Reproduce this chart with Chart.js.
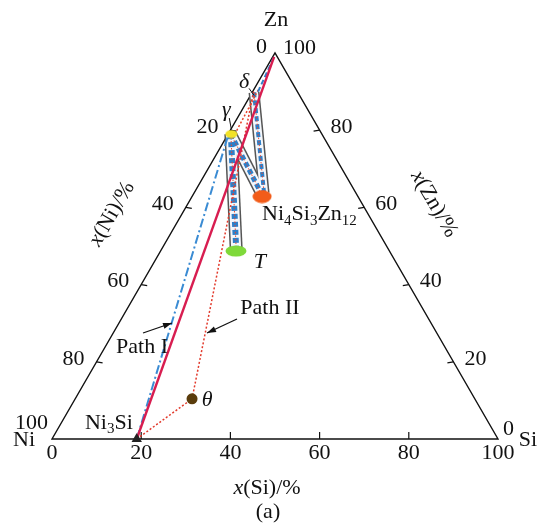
<!DOCTYPE html>
<html>
<head>
<meta charset="utf-8">
<script src="https://cdn.jsdelivr.net/npm/chart.js@4.4.0/dist/chart.umd.min.js"></script>
<style>
body { margin: 0; background: #fff; }
canvas { display: block; }
</style>
</head>
<body>
<canvas id="chart" width="537" height="527"></canvas>
<script>
'use strict';

// compositions in at.%: Si and Zn given, Ni is the rest
let phaseNames = ['Ni3Si', 'θ', 'T', 'Ni4Si3Zn12', 'γ'];
let phaseSi = [19, 26.2, 16.9, 15.7, 0.7];
let phaseZn = [0, 10.4, 48.7, 62.8, 79.0];

let tickValues = [0, 20, 40, 60, 80, 100];

let pathISi = [19, 0.3];
let pathIZn = [0, 99];
let pathIBlueSi = [19, 0.2];
let pathIBlueZn = [0, 78.5];
let pathIISi = [19, 26.2, 0.2];
let pathIIZn = [0, 10.4, 90];
let gammaDeltaSi = [1.5, 1.0];
let gammaDeltaZn = [79, 91];
let deltaZnSi = [1.2, 0.3];
let deltaZnZn = [90, 99];

let bandGammaTSi = [0.6, 16.7];
let bandGammaTZn = [79, 49.2];
let bandGammaNSi = [0.6, 15.5];
let bandGammaNZn = [79, 63.2];
let bandDeltaNSi = [0.4, 15.7];
let bandDeltaNZn = [89.8, 63.7];

const H = Math.sqrt(3) / 2;
const FONT = '"Liberation Serif", "Times New Roman", serif';

function tern(si, zn) {
    return { x: si + zn / 2, y: zn * H };
}

function lineSet(si, zn, color, width, dash, order) {
    return {
        data: si.map((s, i) => tern(s, zn[i])),
        showLine: true,
        borderColor: color,
        borderWidth: width,
        borderDash: dash || [],
        pointRadius: 0,
        fill: false,
        clip: false,
        order: order
    };
}

function ellipse(w, h, color) {
    let c = document.createElement('canvas');
    c.width = w;
    c.height = h;
    let g = c.getContext('2d');
    g.fillStyle = color;
    g.beginPath();
    g.ellipse(w / 2, h / 2, w / 2 - 0.5, h / 2 - 0.5, 0, 0, 2 * Math.PI);
    g.fill();
    return c;
}

let datasets = [];
let bands = [[bandGammaTSi, bandGammaTZn, 13], [bandGammaNSi, bandGammaNZn, 12], [bandDeltaNSi, bandDeltaNZn, 11]];
bands.forEach(b => {
    datasets.push(lineSet(b[0], b[1], '#555', b[2], null, 20));
    datasets.push(lineSet(b[0], b[1], '#f4f7fb', b[2] - 3, null, 19));
    datasets.push(lineSet(b[0], b[1], '#2f7fc8', b[2] - 7, [5, 3], 18));
    datasets.push(lineSet(b[0], b[1], '#e8452c', 1, [1.5, 2], 17));
});
datasets.push(lineSet(gammaDeltaSi, gammaDeltaZn, '#e8452c', 1.5, [2, 2], 8));
datasets.push(lineSet(deltaZnSi, deltaZnZn, '#2f7fc8', 2, [5, 3], 7));
datasets.push(lineSet(pathIISi, pathIIZn, '#e23a2c', 1.5, [2, 2], 6));
datasets.push(lineSet(pathIBlueSi, pathIBlueZn, '#3a8bd3', 2, [9, 3, 2, 3], 5));
datasets.push(lineSet(pathISi, pathIZn, '#d81d50', 2.4, null, 4));

datasets.push({
    data: phaseSi.map((s, i) => tern(s, phaseZn[i])),
    showLine: false,
    pointStyle: ['triangle', 'circle', ellipse(22, 12, '#7fd93a'), ellipse(20, 14, '#f25c19'), ellipse(13, 9, '#f2e227')],
    pointRadius: [6, 5.5, 10, 10, 6],
    backgroundColor: ['#222', '#5a3c0c', '#7fd93a', '#f25c19', '#f2e227'],
    borderColor: ['#222', '#5a3c0c', '#7fd93a', '#f25c19', '#f2e227'],
    borderWidth: 0,
    clip: false,
    order: 0
});

function fontOf(p) {
    return (p.it ? 'italic ' : '') + (p.sub ? '15px ' : '22px ') + FONT;
}

function rich(ctx, parts, x, y, align) {
    let w = 0;
    parts.forEach(p => { ctx.font = fontOf(p); w += ctx.measureText(p.t).width; });
    let cx = align === 'center' ? x - w / 2 : align === 'right' ? x - w : x;
    ctx.textAlign = 'left';
    ctx.textBaseline = 'middle';
    parts.forEach(p => {
        ctx.font = fontOf(p);
        ctx.fillText(p.t, cx, y + (p.sub ? 6 : 0));
        cx += ctx.measureText(p.t).width;
    });
}

function arrow(ctx, x1, y1, x2, y2) {
    ctx.beginPath();
    ctx.moveTo(x1, y1);
    ctx.lineTo(x2, y2);
    ctx.stroke();
    let a = Math.atan2(y2 - y1, x2 - x1);
    ctx.beginPath();
    ctx.moveTo(x2, y2);
    ctx.lineTo(x2 - 9 * Math.cos(a) + 3 * Math.sin(a), y2 - 9 * Math.sin(a) - 3 * Math.cos(a));
    ctx.lineTo(x2 - 9 * Math.cos(a) - 3 * Math.sin(a), y2 - 9 * Math.sin(a) + 3 * Math.cos(a));
    ctx.closePath();
    ctx.fill();
}

let ternaryFrame = {
    id: 'ternaryFrame',
    beforeDatasetsDraw(chart) {
        let ctx = chart.ctx;
        let P = (si, zn) => {
            let t = tern(si, zn);
            return { x: chart.scales.x.getPixelForValue(t.x), y: chart.scales.y.getPixelForValue(t.y) };
        };
        let ni = P(0, 0), si = P(100, 0), zn = P(0, 100);
        ctx.save();
        ctx.strokeStyle = '#111';
        ctx.lineWidth = 1.4;
        ctx.beginPath();
        ctx.moveTo(ni.x, ni.y);
        ctx.lineTo(si.x, si.y);
        ctx.lineTo(zn.x, zn.y);
        ctx.closePath();
        ctx.stroke();
        ctx.lineWidth = 1.2;
        tickValues.slice(1, -1).forEach(v => {
            let b = P(v, 0), l = P(0, 100 - v), r = P(100 - v, v);
            ctx.beginPath();
            ctx.moveTo(b.x, b.y); ctx.lineTo(b.x, b.y - 7);
            ctx.moveTo(l.x, l.y); ctx.lineTo(l.x + 6, l.y + 1);
            ctx.moveTo(r.x, r.y); ctx.lineTo(r.x - 6, r.y + 1);
            ctx.stroke();
        });
        ctx.restore();
    },
    afterDatasetsDraw(chart) {
        let ctx = chart.ctx;
        let P = (si, zn) => {
            let t = tern(si, zn);
            return { x: chart.scales.x.getPixelForValue(t.x), y: chart.scales.y.getPixelForValue(t.y) };
        };
        let ni = P(0, 0), si = P(100, 0), zn = P(0, 100);
        ctx.save();
        ctx.fillStyle = '#111';
        ctx.strokeStyle = '#111';

        tickValues.forEach(v => {
            let b = P(v, 0);
            rich(ctx, [{ t: String(v) }], b.x, b.y + 14, 'center');
            let l = P(0, 100 - v);
            if (v === 0) rich(ctx, [{ t: '0' }], l.x - 8, l.y - 6, 'right');
            else if (v === 100) rich(ctx, [{ t: '100' }], l.x - 4, l.y - 16, 'right');
            else rich(ctx, [{ t: String(v) }], l.x - 12, l.y - 3, 'right');
            let r = P(100 - v, v);
            if (v === 100) rich(ctx, [{ t: '100' }], r.x + 8, r.y - 5, 'left');
            else if (v === 0) rich(ctx, [{ t: '0' }], r.x + 5, r.y - 10, 'left');
            else rich(ctx, [{ t: String(v) }], r.x + 11, r.y - 3, 'left');
        });

        rich(ctx, [{ t: 'Zn' }], zn.x + 1, zn.y - 33, 'center');
        rich(ctx, [{ t: 'Ni' }], ni.x - 28, ni.y + 1, 'center');
        rich(ctx, [{ t: 'Si' }], si.x + 30, si.y + 1, 'center');

        rich(ctx, [{ t: 'x', it: true }, { t: '(Si)/%' }], (ni.x + si.x) / 2 - 8, ni.y + 49, 'center');
        rich(ctx, [{ t: '(a)' }], (ni.x + si.x) / 2 - 7, ni.y + 73, 'center');

        ctx.save();
        ctx.translate(112, 214);
        ctx.rotate(-Math.PI / 3);
        rich(ctx, [{ t: 'x', it: true }, { t: '(Ni)/%' }], 0, 0, 'center');
        ctx.restore();
        ctx.save();
        ctx.translate(434, 204);
        ctx.rotate(Math.PI / 3);
        rich(ctx, [{ t: 'x', it: true }, { t: '(Zn)/%' }], 0, 0, 'center');
        ctx.restore();

        let ph = phaseSi.map((s, i) => P(s, phaseZn[i]));
        rich(ctx, [{ t: 'Ni' }, { t: '3', sub: true }, { t: 'Si' }], ph[0].x - 4, ph[0].y - 16, 'right');
        rich(ctx, [{ t: 'θ', it: true }], ph[1].x + 15, ph[1].y + 1, 'center');
        rich(ctx, [{ t: 'T', it: true }], ph[2].x + 24, ph[2].y + 11, 'center');
        rich(ctx, [{ t: 'Ni' }, { t: '4', sub: true }, { t: 'Si' }, { t: '3', sub: true }, { t: 'Zn' }, { t: '12', sub: true }], ph[3].x, ph[3].y + 18, 'left');
        rich(ctx, [{ t: 'γ', it: true }], ph[4].x - 5, ph[4].y - 24, 'center');

        let d = P(bandDeltaNSi[0], bandDeltaNZn[0]);
        rich(ctx, [{ t: 'δ', it: true }], d.x - 10, d.y - 10, 'center');

        ctx.lineWidth = 1;
        ctx.beginPath();
        ctx.moveTo(d.x - 5, d.y - 4); ctx.lineTo(d.x, d.y + 3);
        ctx.moveTo(ph[4].x - 2, ph[4].y - 16); ctx.lineTo(ph[4].x, ph[4].y - 5);
        ctx.stroke();

        rich(ctx, [{ t: 'Path I' }], 142, 347, 'center');
        rich(ctx, [{ t: 'Path II' }], 270, 308, 'center');
        ctx.lineWidth = 1.3;
        arrow(ctx, 143, 333, 172, 323);
        arrow(ctx, 237, 319, 207, 333);
        ctx.restore();
    }
};

let ctx = document.getElementById('chart').getContext('2d');
let chart = new Chart(ctx, {
    type: 'scatter',
    data: { datasets: datasets },
    options: {
        responsive: false,
        animation: false,
        layout: { padding: { left: 52, right: 39, top: 53, bottom: 88 } },
        scales: {
            x: { type: 'linear', min: 0, max: 100, display: false },
            y: { type: 'linear', min: 0, max: 100 * H, display: false }
        },
        plugins: { legend: { display: false }, tooltip: { enabled: false } }
    },
    plugins: [ternaryFrame]
});
</script>
</body>
</html>
